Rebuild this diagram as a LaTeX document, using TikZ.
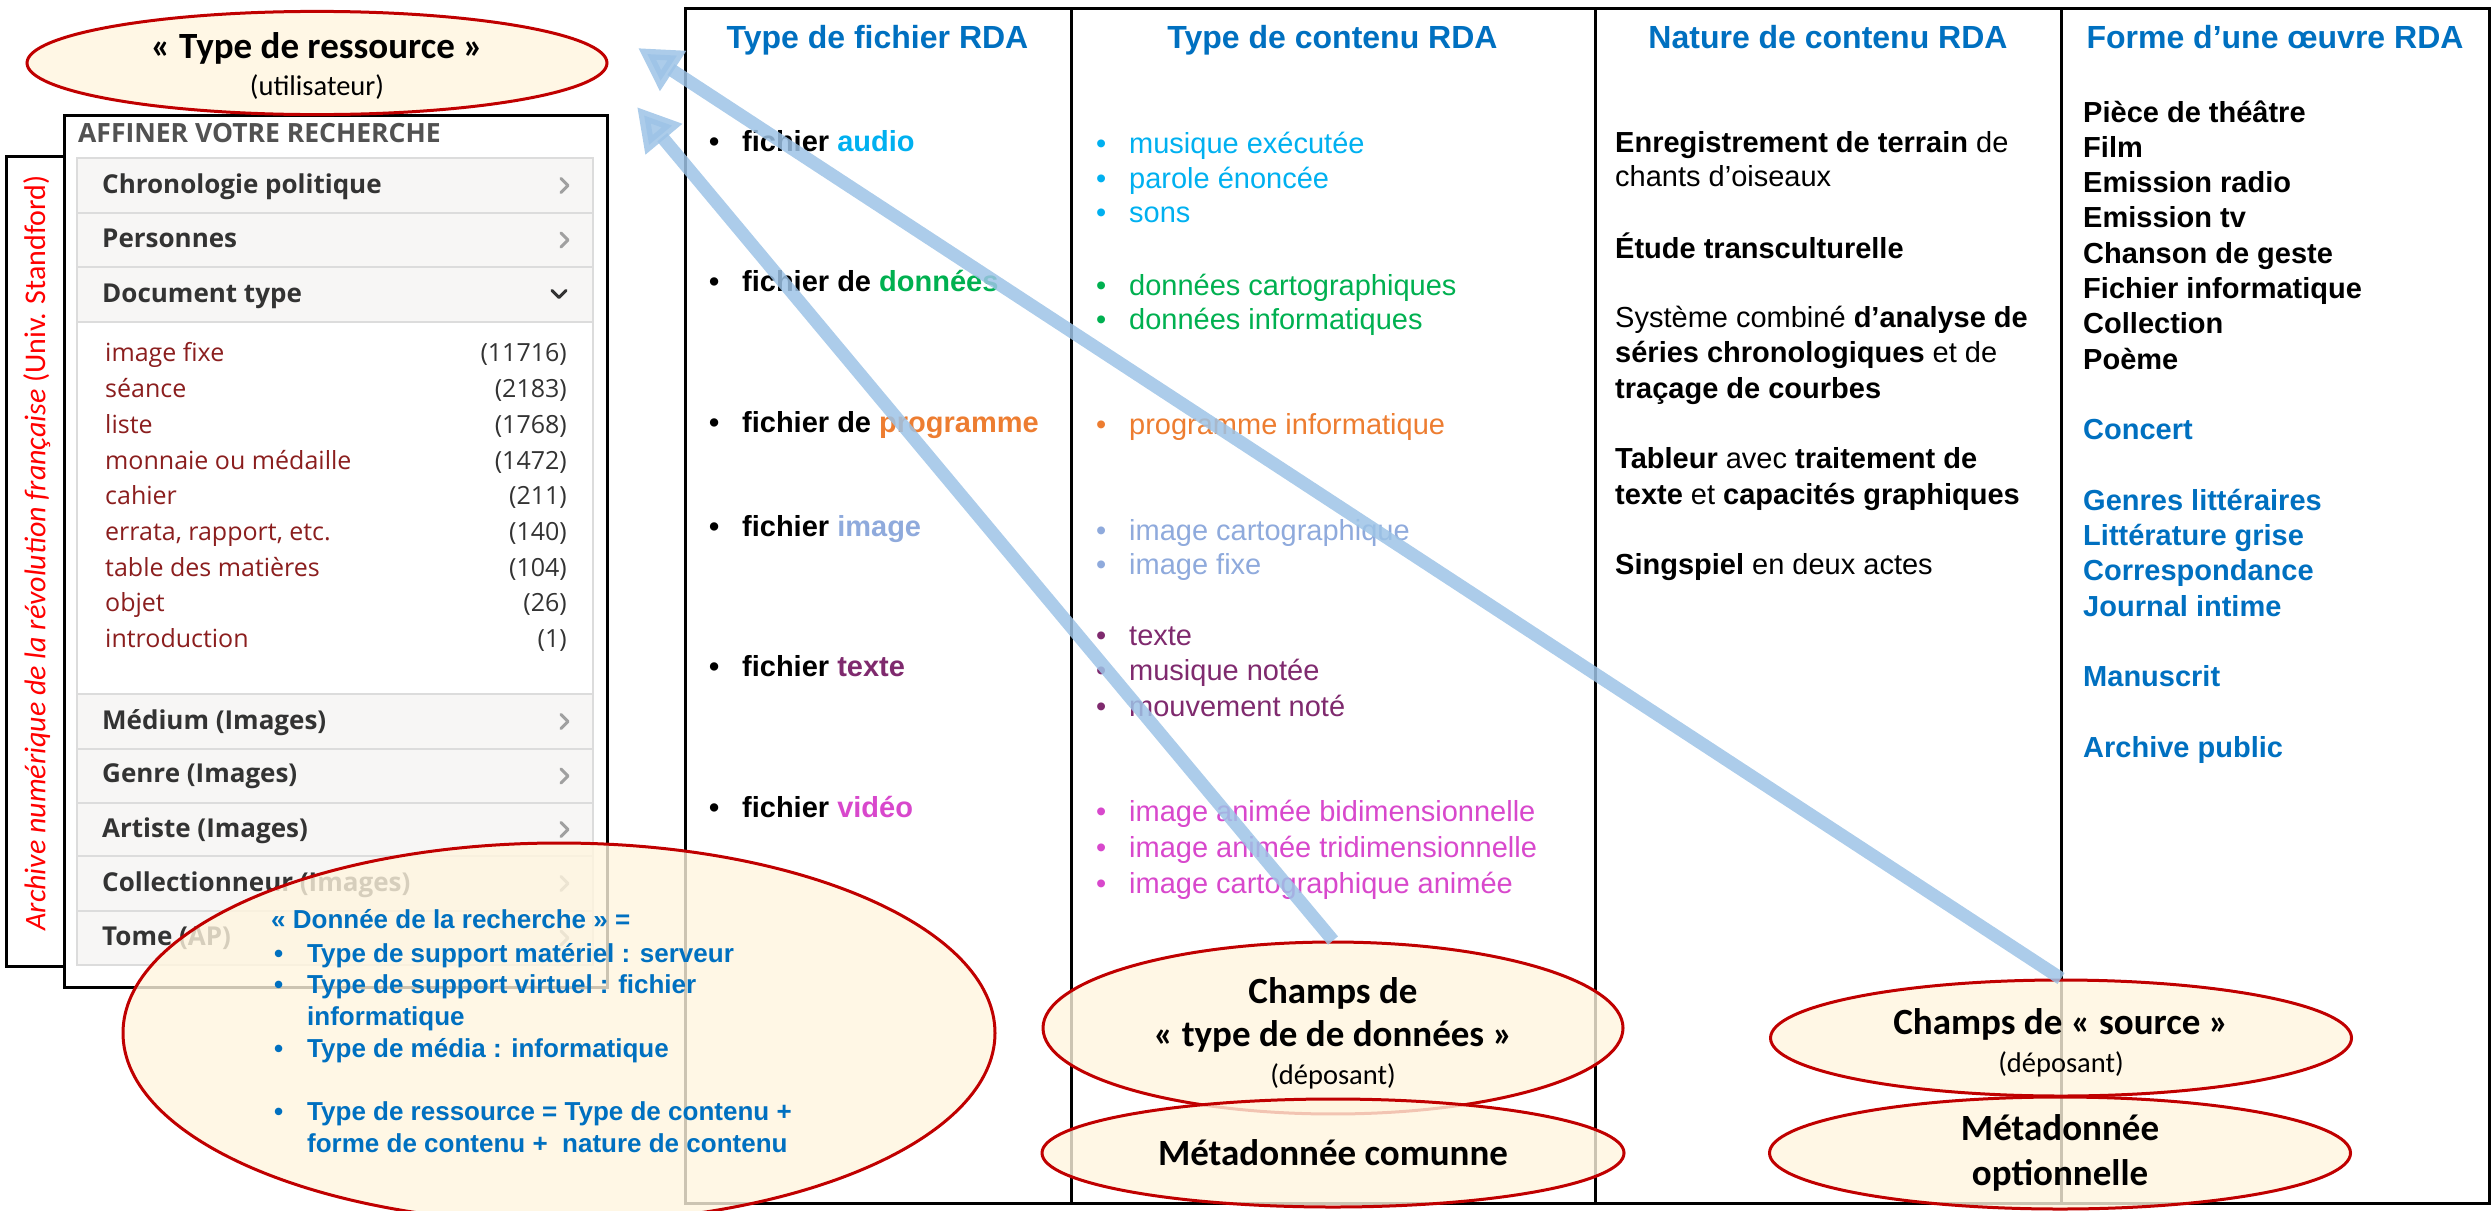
\documentclass[tikz,border=0pt]{standalone}
\usepackage{fontspec}
\setmainfont{Liberation Sans}
\newfontfamily\calibri{Carlito}
\newfontfamily\opensans{Open Sans}
\usetikzlibrary{arrows.meta,shapes.geometric}

\definecolor{rdablue}{HTML}{0070C0}
\definecolor{audiocol}{HTML}{00B0F0}
\definecolor{datacol}{HTML}{00B050}
\definecolor{progcol}{HTML}{ED7D31}
\definecolor{imgcol}{HTML}{8FAADC}
\definecolor{textcol}{HTML}{7F2A6E}
\definecolor{videocol}{HTML}{D848CC}
\definecolor{creme}{HTML}{FFF5DF}
\definecolor{ovalred}{HTML}{C00000}
\definecolor{arrowblue}{HTML}{9DC3E6}
\definecolor{itemred}{HTML}{8B1E1E}
\definecolor{panelgrey}{HTML}{F7F6F5}
\definecolor{panelline}{HTML}{DCDCDC}
\definecolor{panelink}{HTML}{333333}
\definecolor{chevgrey}{HTML}{A0A0A0}

\newcommand\rdabody{\fontsize{29}{35}\selectfont}
\newcommand\rdahead{\fontsize{32}{38}\selectfont\bfseries}
\newcommand\ovaltitle{\calibri\fontsize{37}{44}\selectfont\bfseries}
\newcommand\ovalsub{\calibri\fontsize{28.5}{32}\selectfont}
\newcommand\panelfont{\opensans\fontsize{25}{28}\selectfont}
\newcommand\noteblue{\fontsize{26}{32}\selectfont\bfseries}
\newcommand\bul{\makebox[33pt][l]{•}}

\begin{document}
\begin{tikzpicture}[x=1pt,y=-1pt,
	rule/.style={line width=3pt},
	colhead/.style={anchor=base,inner sep=0pt,font=\rdahead,text=rdablue},
	entry/.style={anchor=base west,inner sep=0pt,font=\rdabody},
	oval/.style={ellipse,draw=ovalred,line width=3pt,fill=creme,fill opacity=0.8,text opacity=1,inner sep=0pt,align=center},
	flow/.style={arrowblue,line width=13pt,opacity=0.85,-{Triangle[length=42pt,width=45pt]}},
	facet/.style={anchor=base west,inner sep=0pt,font=\opensans\fontsize{26}{28}\selectfont\bfseries,text=panelink},
	hit/.style={anchor=base west,inner sep=0pt,font=\panelfont,text=itemred},
	hitcount/.style={anchor=base east,inner sep=0pt,font=\panelfont,text=panelink},
	chev/.style={line width=3pt,draw=chevgrey,line cap=round,line join=round},
	note/.style={anchor=base west,inner sep=0pt,font=\noteblue,text=rdablue}]
	\useasboundingbox (0,0) rectangle (2491,1210);

	% tableau RDA
	\draw[rule] (685,8) rectangle (2489,1203);
	\foreach \x in {1071,1595,2061} \draw[rule] (\x,8) -- (\x,1203);
	\node[colhead] (hfile) at (877.5,48) {Type de fichier RDA};
	\node[colhead] (hcontent) at (1332.5,48) {Type de contenu RDA};
	\node[colhead] (hnature) at (1828,48) {Nature de contenu RDA};
	\node[colhead] (hform) at (2275,48) {Forme d’une œuvre RDA};

	% type de fichier
	\node[entry] (faudio) at (709,151) {\bfseries\bul fichier \textcolor{audiocol}{audio}};
	\node[entry] (fdata) at (709,291) {\bfseries\bul fichier de \textcolor{datacol}{données}};
	\node[entry] (fprog) at (709,432) {\bfseries\bul fichier de \textcolor{progcol}{programme}};
	\node[entry] (fimage) at (709,536) {\bfseries\bul fichier \textcolor{imgcol}{image}};
	\node[entry] (ftext) at (709,676) {\bfseries\bul fichier \textcolor{textcol}{texte}};
	\node[entry] (fvideo) at (709,817) {\bfseries\bul fichier \textcolor{videocol}{vidéo}};

	% type de contenu
	\node[entry,text=audiocol] (c1) at (1096,153) {\bul musique exécutée};
	\node[entry,text=audiocol] (c2) at (1096,188) {\bul parole énoncée};
	\node[entry,text=audiocol] (c3) at (1096,222) {\bul sons};
	\node[entry,text=datacol] (c4) at (1096,295) {\bul données cartographiques};
	\node[entry,text=datacol] (c5) at (1096,329) {\bul données informatiques};
	\node[entry,text=progcol] (c6) at (1096,434) {\bul programme informatique};
	\node[entry,text=imgcol] (c7) at (1096,540) {\bul image cartographique};
	\node[entry,text=imgcol] (c8) at (1096,574) {\bul image fixe};
	\node[entry,text=textcol] (c9) at (1096,645) {\bul texte};
	\node[entry,text=textcol] (c10) at (1096,680) {\bul musique notée};
	\node[entry,text=textcol] (c11) at (1096,716) {\bul mouvement noté};
	\node[entry,text=videocol] (c12) at (1096,821) {\bul image animée bidimensionnelle};
	\node[entry,text=videocol] (c13) at (1096,857) {\bul image animée tridimensionnelle};
	\node[entry,text=videocol] (c14) at (1096,893) {\bul image cartographique animée};

	% nature de contenu
	\node[entry] (n1) at (1615,152) {\textbf{Enregistrement de terrain} de};
	\node[entry] (n2) at (1615,186) {chants d’oiseaux};
	\node[entry] (n3) at (1615,258) {\textbf{Étude transculturelle}};
	\node[entry] (n4) at (1615,327) {Système combiné \textbf{d’analyse de}};
	\node[entry] (n5) at (1615,362) {\textbf{séries chronologiques} et de};
	\node[entry] (n6) at (1615,398) {\textbf{traçage de courbes}};
	\node[entry] (n7) at (1615,468) {\textbf{Tableur} avec \textbf{traitement de}};
	\node[entry] (n8) at (1615,504) {\textbf{texte} et \textbf{capacités graphiques}};
	\node[entry] (n9) at (1615,574) {\textbf{Singspiel} en deux actes};

	% forme d'une oeuvre
	\foreach \y/\t [count=\i] in {122/Pièce de théâtre,157.3/Film,192.6/Emission radio,227.9/Emission tv,263.2/Chanson de geste,298.5/Fichier informatique,333.8/Collection,369.1/Poème}
		\node[entry,font=\rdabody\bfseries] (form\i) at (2083,\y) {\t};
	\foreach \y/\t [count=\i] in {439.7/Concert,510.3/Genres littéraires,545.6/Littérature grise,580.9/Correspondance,616.2/Journal intime,686.8/Manuscrit,757.4/Archive public}
		\node[entry,font=\rdabody\bfseries,text=rdablue] (genre\i) at (2083,\y) {\t};

	% capture de l'archive
	\draw[rule,fill=white] (64,115) rectangle (607,987);
	\draw[rule] (6,156) rectangle (64,966);
	\node[rotate=90,inner sep=0pt,text=red,font=\calibri\fontsize{30}{34}\selectfont] (archive) at (37,553) {\itshape Archive numérique de la révolution française \upshape(Univ. Standford)};
	\node[anchor=base west,inner sep=0pt,font=\opensans\fontsize{26.5}{30}\selectfont\bfseries,text=black!68] (affiner) at (78,142) {AFFINER VOTRE RECHERCHE};
	\fill[panelgrey] (77,158) rectangle (593,965);
	\fill[white] (77,322) rectangle (593,694);
	\draw[panelline,line width=1.5pt] (77,158) rectangle (593,965);
	\foreach \y in {213,267,322,694,749,803,856,911} \draw[panelline,line width=1.5pt] (77,\y) -- (593,\y);
	\foreach \y/\t [count=\i] in {193/Chronologie politique,247/Personnes,302/Document type,729/Médium (Images),782/Genre (Images),837/Artiste (Images),891/Collectionneur (Images),945/Tome (AP)}
		\node[facet] (facet\i) at (102,\y) {\t};
	\foreach \c in {185.5,240,721.5,776,829.5,883.5,938} \draw[chev] (561,\c-7) -- (568,\c) -- (561,\c+7);
	\draw[chev,draw=panelink] (552,290.5) -- (559,297.5) -- (566,290.5);
	\foreach \y/\t/\n [count=\i] in {361/image fixe/11716,397/séance/2183,433/liste/1768,469/monnaie ou médaille/1472,504/cahier/211,540/{errata, rapport, etc.}/140,576/table des matières/104,611/objet/26,647/introduction/1}
	{
		\node[hit] (hit\i) at (105,\y) {\t};
		\node[hitcount] (count\i) at (567,\y) {(\n)};
	}

	% donnee de la recherche
	\node[oval,minimum width=872pt,minimum height=380pt] (search) at (559,1033) {};
	\node[note] (s0) at (271,928) {« Donnée de la recherche » =};
	\node[note] (s1) at (274,962) {\bul Type de support matériel : serveur};
	\node[note] (s2) at (274,993) {\bul Type de support virtuel : fichier};
	\node[note] (s3) at (307,1025) {informatique};
	\node[note] (s4) at (274,1057) {\bul Type de média : informatique};
	\node[note] (s5) at (274,1120) {\bul Type de ressource = Type de contenu +};
	\node[note] (s6) at (307,1152) {forme de contenu +\ \ nature de contenu};

	% fleches
	\coordinate (userend) at (638,48);
	\coordinate (panelend) at (637,107);
	\node[oval,minimum width=580pt,minimum height=90pt,font=\calibri\fontsize{30}{37}\selectfont] (restype) at (317,63) {{\ovaltitle\rule{0pt}{32pt}« Type de ressource »}\\{\ovalsub (utilisateur)}};
	\node[oval,minimum width=580pt,minimum height=132pt,font=\calibri\fontsize{30}{43}\selectfont] (typefield) at (1333,1028) {{\ovaltitle\rule{0pt}{36pt}Champs de}\\{\ovaltitle « type de de données »}\\[-5pt]{\ovalsub (déposant)}};
	\node[oval,minimum width=582pt,minimum height=108pt,font=\ovaltitle] (common) at (1333,1153) {Métadonnée comunne};
	\node[oval,minimum width=581pt,minimum height=116pt,font=\calibri\fontsize{30}{38}\selectfont] (srcfield) at (2061,1038) {{\ovaltitle\rule{0pt}{36pt}Champs de « source »}\\{\ovalsub (déposant)}};
	\node[oval,minimum width=581pt,minimum height=112pt,font=\calibri\fontsize{30}{45}\selectfont] (optional) at (2060,1153) {{\ovaltitle Métadonnée}\\{\ovaltitle optionnelle}};
	\draw[flow] (srcfield.north) -- (userend);
	\draw[flow] (typefield.north) -- (panelend);
\end{tikzpicture}
\end{document}
